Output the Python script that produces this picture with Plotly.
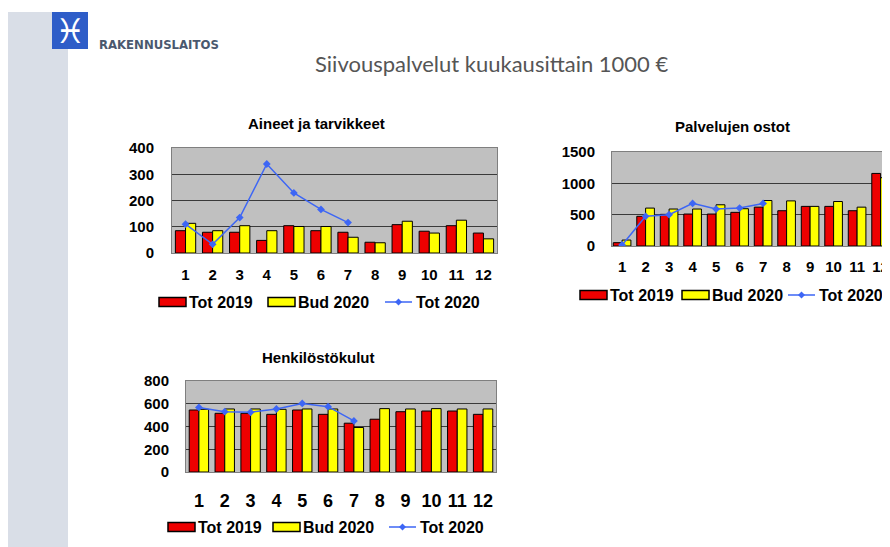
import plotly.graph_objects as go

# page body has an 8px margin, so the figure is sized to fill the rest of the window
W, H = 882, 539
OFF = 8

months = [1, 2, 3, 4, 5, 6, 7, 8, 9, 10, 11, 12]
months_2020 = [1, 2, 3, 4, 5, 6, 7]

aineet_tot2019 = [85, 79, 79, 48, 104, 85, 79, 41, 108, 83, 104, 76]
aineet_bud2020 = [113, 85, 104, 85, 101, 101, 60, 39, 121, 76, 125, 54]
aineet_tot2020 = [110, 33, 135, 339, 229, 166, 116]

palvelu_tot2019 = [53, 474, 505, 510, 510, 537, 620, 563, 632, 632, 563, 1158]
palvelu_bud2020 = [95, 605, 590, 590, 658, 595, 726, 720, 632, 710, 620, 1090]
palvelu_tot2020 = [16, 474, 500, 680, 590, 605, 680]

henk_tot2019 = [545, 516, 516, 507, 545, 507, 429, 464, 530, 536, 536, 507]
henk_bud2020 = [551, 554, 554, 551, 554, 554, 391, 557, 554, 557, 554, 554]
henk_tot2020 = [568, 530, 525, 554, 603, 574, 449]

series_names = ["Tot 2019", "Bud 2020", "Tot 2020"]
main_title = "Siivouspalvelut kuukausittain 1000 €"
chart_titles = ["Aineet ja tarvikkeet", "Palvelujen ostot", "Henkilöstökulut"]
brand = "RAKENNUSLAITOS"

RED = "#EE0000"
YELLOW = "#FFFF00"
BLUE = "#3D66F5"
FONT = "Liberation Sans, Arial, sans-serif"


def px(x):
    return (x - OFF) / W


def py(y):
    return 1 - (y - OFF) / H


fig = go.Figure()

charts = [
    (aineet_tot2019, aineet_bud2020, aineet_tot2020, "x", "y"),
    (palvelu_tot2019, palvelu_bud2020, palvelu_tot2020, "x2", "y2"),
    (henk_tot2019, henk_bud2020, henk_tot2020, "x3", "y3"),
]

for t19, b20, t20, xa, ya in charts:
    fig.add_trace(go.Bar(x=months, y=t19, name=series_names[0], xaxis=xa, yaxis=ya,
                         marker=dict(color=RED, line=dict(color="#000000", width=1)),
                         showlegend=False))
    fig.add_trace(go.Bar(x=months, y=b20, name=series_names[1], xaxis=xa, yaxis=ya,
                         marker=dict(color=YELLOW, line=dict(color="#000000", width=1)),
                         showlegend=False))
    fig.add_trace(go.Scatter(x=months_2020, y=t20, name=series_names[2], xaxis=xa, yaxis=ya,
                             mode="lines+markers",
                             line=dict(color=BLUE, width=1.5),
                             marker=dict(symbol="diamond", size=6, color=BLUE),
                             showlegend=False))

bold = dict(family=FONT, size=15, color="#000000", weight="bold")


def yax(domain, rng, dtick, anchor, standoff):
    return dict(domain=domain, range=rng, dtick=dtick, anchor=anchor,
                showgrid=True, gridcolor="#3a3a3a", gridwidth=1,
                showline=True, mirror=True, linecolor="#7f7f7f", linewidth=1,
                zeroline=False, tickfont=dict(bold, size=15), ticklabelstandoff=standoff,
                fixedrange=True)


def xax(domain, rng, anchor, size=15, standoff=6):
    return dict(domain=domain, range=rng, anchor=anchor, tickvals=months,
                showgrid=False, showline=True, mirror=True, linecolor="#7f7f7f",
                linewidth=1, zeroline=False, tickfont=dict(bold, size=size),
                ticklabelstandoff=standoff, fixedrange=True)


fig.update_layout(
    width=W, height=H,
    margin=dict(l=0, r=0, t=0, b=0, autoexpand=False),
    paper_bgcolor="#FFFFFF",
    plot_bgcolor="#C0C0C0",
    barmode="group", bargap=0.25, bargroupgap=0,
    font=dict(family=FONT),
    showlegend=False,
    xaxis=xax([px(172), px(497)], [0.5, 12.5], "y", standoff=8),
    yaxis=yax([py(253), py(148)], [0, 400], 100, "x", 14),
    xaxis2=xax([px(612), px(890)], [0.57, 12.4], "y2", standoff=7),
    yaxis2=yax([py(246), py(152)], [0, 1500], 500, "x2", 13),
    xaxis3=xax([px(186), px(496)], [0.5, 12.5], "y3", size=18, standoff=12),
    yaxis3=yax([py(472), py(381)], [0, 800], 200, "x3", 13),
)

shapes = [
    dict(type="rect", xref="paper", yref="paper", x0=px(8), x1=px(68), y0=0, y1=py(12),
         fillcolor="#D9DEE7", line=dict(width=0), layer="below"),
    dict(type="rect", xref="paper", yref="paper", x0=px(52), x1=px(88), y0=py(49), y1=py(12),
         fillcolor="#2E5DC8", line=dict(width=0), layer="below"),
]

annotations = [
    dict(text=main_title, x=px(492), y=py(63), xref="paper", yref="paper",
         showarrow=False, xanchor="center", yanchor="middle",
         font=dict(family="Lato, Open Sans, sans-serif", size=22, color="#555555")),
    dict(text=brand, x=px(97), y=py(44), xref="paper", yref="paper",
         showarrow=False, xanchor="left", yanchor="middle",
         font=dict(family="Liberation Sans Narrow, DejaVu Sans Condensed, sans-serif",
                   size=13, color="#4A586E", weight="bold")),
    dict(text="♓", x=px(70), y=py(31), xref="paper", yref="paper",
         showarrow=False, xanchor="center", yanchor="middle",
         font=dict(family="DejaVu Sans", size=34, color="#FFFFFF", weight="bold")),
    dict(text=chart_titles[0], x=px(316), y=py(123), xref="paper", yref="paper",
         showarrow=False, xanchor="center", yanchor="middle", font=dict(bold, size=15)),
    dict(text=chart_titles[1], x=px(732), y=py(126), xref="paper", yref="paper",
         showarrow=False, xanchor="center", yanchor="middle", font=dict(bold, size=15)),
    dict(text=chart_titles[2], x=px(318), y=py(357), xref="paper", yref="paper",
         showarrow=False, xanchor="center", yanchor="middle", font=dict(bold, size=15)),
]

# manual legends (Excel style wide swatches)
legend_specs = [
    # (y, red swatch x0, yellow swatch x0, line x0)
    (302, 159, 268, 385),
    (295, 580, 682, 788),
    (527, 168, 273, 389),
]
SW, SH = 27, 9
for ly, rx, yx, lx in legend_specs:
    for x0, col, name in ((rx, RED, series_names[0]), (yx, YELLOW, series_names[1])):
        shapes.append(dict(type="rect", xref="paper", yref="paper",
                           x0=px(x0), x1=px(x0 + SW), y0=py(ly + SH / 2), y1=py(ly - SH / 2),
                           fillcolor=col, line=dict(color="#000000", width=1.5)))
        annotations.append(dict(text=name, x=px(x0 + SW + 1), y=py(ly), xref="paper",
                                yref="paper", showarrow=False, xanchor="left",
                                yanchor="middle", font=dict(bold, size=16)))
    shapes.append(dict(type="line", xref="paper", yref="paper",
                       x0=px(lx), x1=px(lx + 27), y0=py(ly), y1=py(ly),
                       line=dict(color=BLUE, width=1.5)))
    cx, r = lx + 13.5, 3.5
    shapes.append(dict(type="path", xref="paper", yref="paper",
                       path=f"M {px(cx)},{py(ly - r)} L {px(cx + r)},{py(ly)} "
                            f"L {px(cx)},{py(ly + r)} L {px(cx - r)},{py(ly)} Z",
                       fillcolor=BLUE, line=dict(color=BLUE, width=0)))
    annotations.append(dict(text=series_names[2], x=px(lx + 29), y=py(ly), xref="paper",
                            yref="paper", showarrow=False, xanchor="left",
                            yanchor="middle", font=dict(bold, size=16)))

fig.update_layout(shapes=shapes, annotations=annotations)

fig.write_html("out.html")
